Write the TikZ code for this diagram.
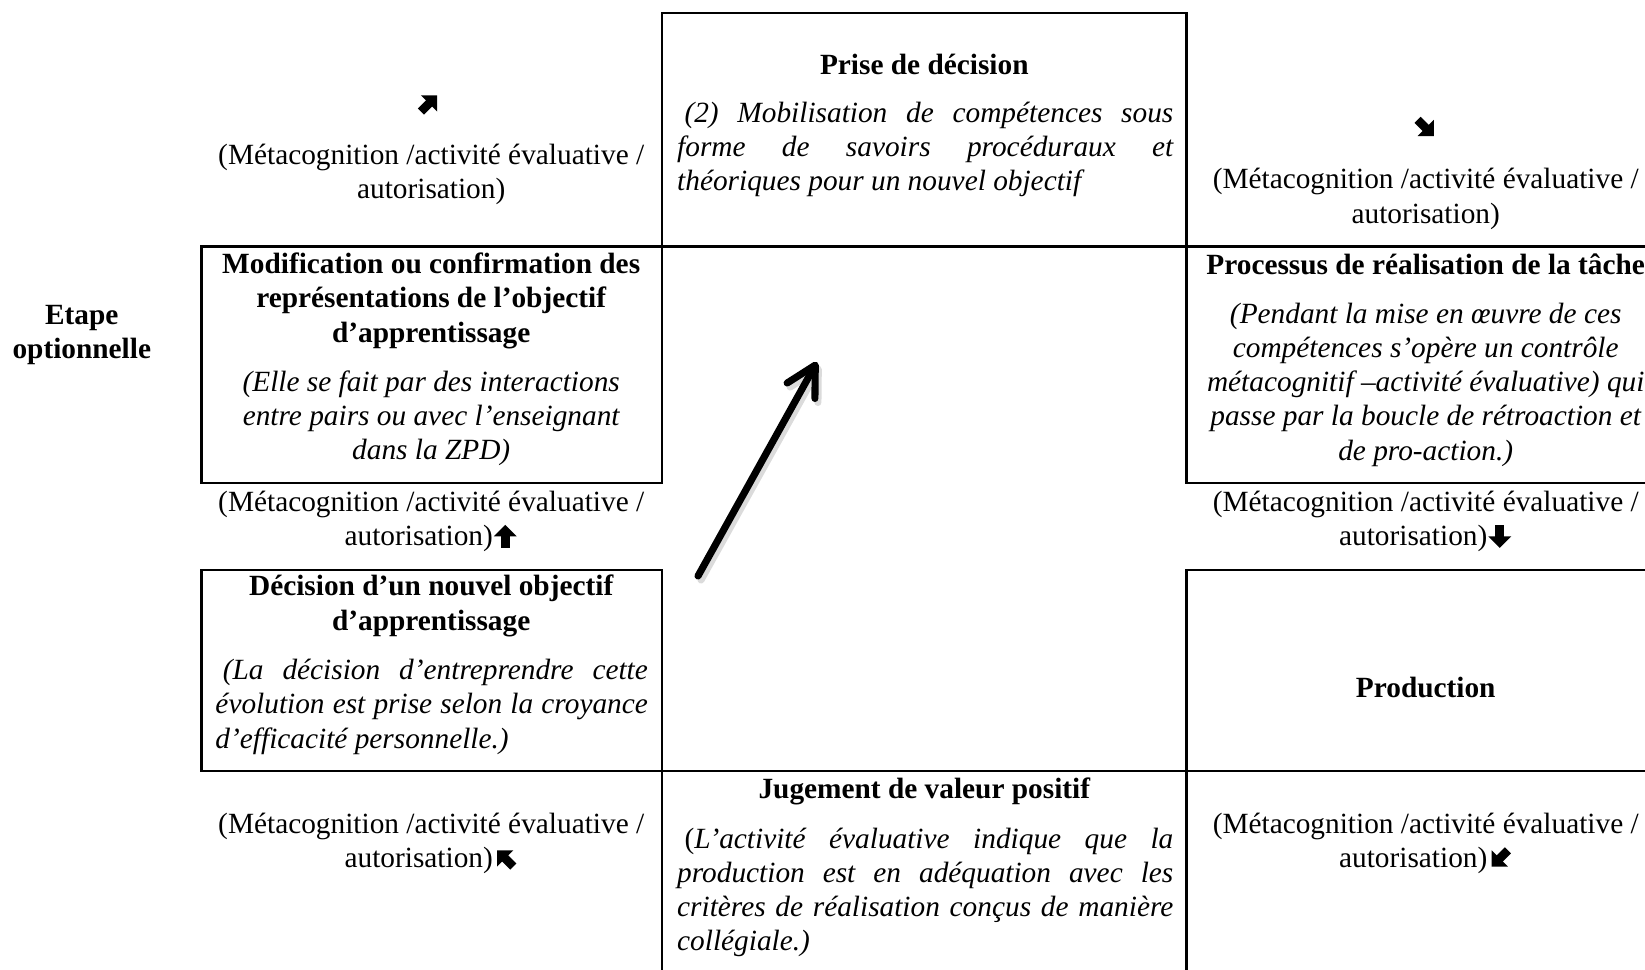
\documentclass[tikz,border=0pt]{standalone}
\usepackage{fontspec}
\setmainfont{Liberation Serif}
\usetikzlibrary{arrows.meta,fit}
\newcommand{\jl}[2]{\makebox[#1][s]{#2}}
\newcommand{\gsp}{\hspace*{10.2pt}}
\tikzset{
  box/.style={draw, line width=0.9pt, inner sep=0pt},
  txt/.style={inner sep=0pt, align=center, font=\fontsize{12}{14}\selectfont},
  ttl/.style={txt, font=\fontsize{12}{14}\selectfont\bfseries},
  itx/.style={txt, font=\fontsize{12}{14}\selectfont\itshape},
  jus/.style={itx, align=left, anchor=west},
  warrow/.pic={
    \fill (-1.75pt,-4.7pt) rectangle (1.75pt,0.3pt);
    \fill (-4.7pt,0pt) -- (4.7pt,0pt) -- (0pt,4.7pt) -- cycle;
  },
  bigarrow/.style={line width=2.9pt, line cap=round,
    -{Straight Barb[length=12pt,width=13pt,line cap=round,line join=round]}},
  shadowarrow/.style={bigarrow, black!14}
}
\begin{document}
\begin{tikzpicture}[x=0.40917pt,y=-0.40917pt]
\clip (0,0) rectangle (1645,969);
\fill[white] (0,0) rectangle (1645,969);

% boxes
\node[box, fit={(662,12.6) (1186.5,246.5)}] (prise) {};
\node[box, fit={(201.4,246.5) (662,482.6)}] (modif) {};
\node[box, fit={(1186.5,246.5) (1700,482.6)}] (proc) {};
\node[box, fit={(201.4,569.7) (662,771.1)}] (decis) {};
\node[box, fit={(1186.5,569.7) (1700,771.1)}] (prod) {};
\node[box, fit={(662,771.1) (1186.5,1010)}] (jug) {};

% Prise de decision
\node[ttl] (prisettl) at (924.3,64.9) {Prise de décision};
\node[jus] (prisetxt) at (676.7,149.4) {\strut\jl{203pt}{\hspace*{3pt}(2) Mobilisation de compétences sous}\\
\strut\jl{203pt}{forme de savoirs procéduraux et}\\
\strut théoriques pour un nouvel objectif};

% top metacognition labels
\coordinate (g1) at (429,103.5);
\pic[rotate=-45] at (g1) {warrow};
\node[txt] (m1) at (431.2,174.5) {\strut(Métacognition /activité évaluative /\\autorisation)\strut};
\coordinate (g2) at (1425.7,128);
\pic[rotate=-135] at (g2) {warrow};
\node[txt] (m2) at (1425.7,199.2) {\strut(Métacognition /activité évaluative /\\autorisation)\strut};

% Etape optionnelle
\node[ttl] (etape) at (81.8,334.5) {\strut Etape\\optionnelle\strut};

% Modification box
\node[ttl] (modttl) at (431.2,301) {\strut Modification ou confirmation des\\représentations de l’objectif\\d’apprentissage\strut};
\node[itx] (modtxt) at (431.2,418.5) {\strut(Elle se fait par des interactions\\entre pairs ou avec l’enseignant\\dans la ZPD)\strut};

% Processus box
\node[ttl] (procttl) at (1425.7,267.4) {\strut Processus de réalisation de la tâche};
\node[itx] (proctxt) at (1425.7,384.9) {\strut(Pendant la mise en œuvre de ces\\compétences s’opère un contrôle\\métacognitif –activité évaluative) qui\\passe par la boucle de rétroaction et\\de pro-action.)\strut};

% middle metacognition labels
\node[txt] (m3) at (431.2,521.3) {\strut(Métacognition /activité évaluative /\\autorisation)\gsp\strut};
\coordinate (g3) at ([xshift=30.3pt,yshift=8pt]m3.south);
\pic at (g3) {warrow};
\node[txt] (m4) at (1425.7,521.3) {\strut(Métacognition /activité évaluative /\\autorisation)\gsp\strut};
\coordinate (g4) at ([xshift=30.3pt,yshift=8pt]m4.south);
\pic[rotate=180] at (g4) {warrow};

% Decision box
\node[ttl] (decttl) at (431.2,606.2) {\strut Décision d’un nouvel objectif\\d’apprentissage\strut};
\node[jus] (dectxt) at (215,707) {\strut\jl{176.9pt}{\hspace*{3pt}(La décision d’entreprendre cette}\\
\strut\jl{176.9pt}{évolution est prise selon la croyance}\\
\strut d’efficacité personnelle.)};

% Production
\node[ttl] (prodttl) at (1425.7,690.2) {\strut Production};

% Jugement
\node[ttl] (jugttl) at (924.3,792) {\strut Jugement de valeur positif};
\node[jus] (jugtxt) at (676.7,892.7) {\strut\jl{203pt}{\hspace*{3pt}\textup{(}L’activité évaluative indique que la}\\
\strut\jl{203pt}{production est en adéquation avec les}\\
\strut\jl{203pt}{critères de réalisation conçus de manière}\\
\strut collégiale.)};

% bottom metacognition labels
\node[txt] (m5) at (431.2,843.3) {\strut(Métacognition /activité évaluative /\\autorisation)\gsp\strut};
\coordinate (g5) at ([xshift=30.3pt,yshift=8pt]m5.south);
\pic[rotate=45] at (g5) {warrow};
\node[txt] (m6) at (1425.7,843.3) {\strut(Métacognition /activité évaluative /\\autorisation)\gsp\strut};
\coordinate (g6) at ([xshift=30.3pt,yshift=8pt]m6.south);
\pic[rotate=135] at (g6) {warrow};

% big arrow
\coordinate (atail) at (698,576);
\coordinate (ahead) at (817,362);
\coordinate (stail) at (701,580);
\coordinate (shead) at (820,366);
\draw[shadowarrow] (stail) -- (shead);
\draw[bigarrow] (atail) -- (ahead);
\end{tikzpicture}
\end{document}
